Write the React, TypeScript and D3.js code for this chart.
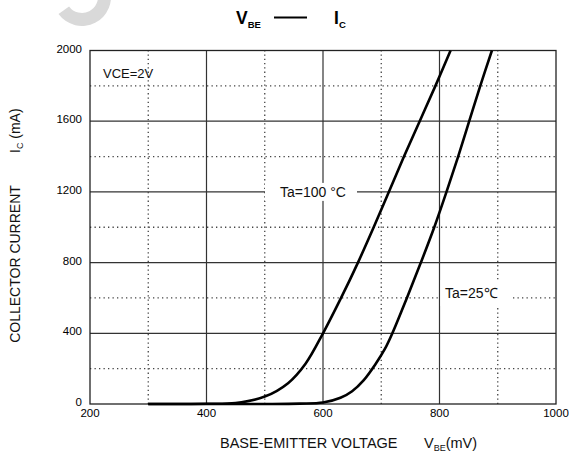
import React, { useRef, useEffect } from 'react';
import * as d3 from 'd3';

// Ta = 100 °C curve
const vbe100 = [300, 400, 450, 500, 540, 570, 600, 631, 660, 687, 713, 739, 766, 793, 819];
const ic100 = [0, 1, 6, 42, 118, 228, 400, 600, 800, 1000, 1200, 1400, 1600, 1800, 2000];

// Ta = 25 °C curve
const vbe25 = [300, 500, 560, 600, 630, 650, 670, 690, 706, 719, 744, 768, 791, 812, 832, 851, 870, 890];
const ic25 = [0, 0, 2, 8, 35, 72, 135, 225, 310, 400, 600, 800, 1000, 1200, 1400, 1600, 1800, 2000];

const xTicks = [200, 400, 600, 800, 1000];
const yTicks = [0, 400, 800, 1200, 1600, 2000];
const xSolid = [400, 600, 800];
const xDotted = [300, 500, 700, 900];
const ySolid = [400, 800, 1200, 1600];
const yDotted = [200, 600, 1000, 1400, 1800];

const W = 569;
const H = 452;
const margin = { top: 50.5, right: 13, bottom: 48, left: 90 };

const App: React.FC = () => {
    const svgRef = useRef<SVGSVGElement | null>(null);

    useEffect(() => {
        if (!svgRef.current) return;
        const svg = d3.select(svgRef.current);
        svg.selectAll('*').remove();

        const x = d3.scaleLinear().domain([200, 1000]).range([margin.left, W - margin.right]);
        const y = d3.scaleLinear().domain([0, 2000]).range([H - margin.bottom, margin.top]);
        const font = 'Arial, "Liberation Sans", sans-serif';

        // faint watermark arc
        const wm = d3.arc()({ innerRadius: 16, outerRadius: 29, startAngle: Math.PI * 0.4, endAngle: Math.PI * 1.3 } as any);
        svg.append('path').attr('d', wm).attr('transform', 'translate(82,-3)').attr('fill', '#d9d9d9');

        // grid
        const grid = svg.append('g');
        grid.selectAll('.xs').data(xSolid).enter().append('line')
            .attr('x1', (d) => x(d)).attr('x2', (d) => x(d))
            .attr('y1', y(0)).attr('y2', y(2000))
            .attr('stroke', '#333').attr('stroke-width', 1.2);
        grid.selectAll('.ys').data(ySolid).enter().append('line')
            .attr('x1', x(200)).attr('x2', x(1000))
            .attr('y1', (d) => y(d)).attr('y2', (d) => y(d))
            .attr('stroke', '#333').attr('stroke-width', 1.2);
        grid.selectAll('.xd').data(xDotted).enter().append('line')
            .attr('x1', (d) => x(d)).attr('x2', (d) => x(d))
            .attr('y1', y(0)).attr('y2', y(2000))
            .attr('stroke', '#444').attr('stroke-width', 1.3)
            .attr('stroke-dasharray', '1.3,3');
        grid.selectAll('.yd').data(yDotted).enter().append('line')
            .attr('x1', x(200)).attr('x2', x(1000))
            .attr('y1', (d) => y(d)).attr('y2', (d) => y(d))
            .attr('stroke', '#444').attr('stroke-width', 1.3)
            .attr('stroke-dasharray', '1.3,3.2');

        // label backgrounds (break the grid)
        svg.append('rect').attr('x', 265).attr('y', y(1200) - 9).attr('width', 92).attr('height', 18).attr('fill', '#fff');
        svg.append('rect').attr('x', x(800) + 1).attr('y', 280).attr('width', 72).attr('height', 26).attr('fill', '#fff');

        // frame
        svg.append('rect')
            .attr('x', x(200)).attr('y', y(2000))
            .attr('width', x(1000) - x(200)).attr('height', y(0) - y(2000))
            .attr('fill', 'none').attr('stroke', '#222').attr('stroke-width', 1.3);

        // curves
        const line = d3.line<[number, number]>()
            .x((d) => x(d[0])).y((d) => y(d[1]))
            .curve(d3.curveCatmullRom.alpha(0.5));
        const c100 = vbe100.map((v, i) => [v, ic100[i]] as [number, number]);
        const c25 = vbe25.map((v, i) => [v, ic25[i]] as [number, number]);
        [c100, c25].forEach((c) => {
            svg.append('path').attr('d', line(c)).attr('fill', 'none')
                .attr('stroke', '#000').attr('stroke-width', 2.6)
                .attr('stroke-linejoin', 'round');
        });

        // tick labels
        svg.selectAll('.xt').data(xTicks).enter().append('text')
            .attr('x', (d) => x(d)).attr('y', y(0) + 12.5)
            .attr('text-anchor', 'middle').attr('font-family', font).attr('font-size', 11.5)
            .text((d) => d);
        svg.selectAll('.yt').data(yTicks).enter().append('text')
            .attr('x', 82).attr('y', (d) => y(d) + 2)
            .attr('text-anchor', 'end').attr('font-family', font).attr('font-size', 11.5)
            .text((d) => d);

        // annotations
        svg.append('text').attr('x', 103).attr('y', 78).attr('font-family', font).attr('font-size', 13)
            .attr('fill', '#111').text('VCE=2V');
        svg.append('text').attr('x', 280).attr('y', y(1200) + 5).attr('font-family', font).attr('font-size', 14)
            .attr('fill', '#111').text('Ta=100 °C');
        svg.append('text').attr('x', 445).attr('y', 298).attr('font-family', font).attr('font-size', 14)
            .attr('fill', '#111').text('Ta=25℃');

        // title
        const title = svg.append('text').attr('font-family', font).attr('font-weight', 'bold').attr('fill', '#000');
        title.append('tspan').attr('x', 236).attr('y', 24).attr('font-size', 17.5).text('V');
        title.append('tspan').attr('dy', 4).attr('font-size', 9.5).text('BE');
        svg.append('line').attr('x1', 274).attr('x2', 307).attr('y1', 17.5).attr('y2', 17.5)
            .attr('stroke', '#000').attr('stroke-width', 2.2);
        const t2 = svg.append('text').attr('font-family', font).attr('font-weight', 'bold').attr('fill', '#000');
        t2.append('tspan').attr('x', 334).attr('y', 24).attr('font-size', 17.5).text('I');
        t2.append('tspan').attr('dy', 4).attr('font-size', 9.5).text('C');

        // x axis title
        svg.append('text').attr('x', 220).attr('y', 448).attr('font-family', font).attr('font-size', 14.5)
            .attr('fill', '#111').text('BASE-EMITTER VOLTAGE');
        const xl = svg.append('text').attr('font-family', font).attr('fill', '#111');
        xl.append('tspan').attr('x', 424).attr('y', 448).attr('font-size', 14.5).text('V');
        xl.append('tspan').attr('dy', 3).attr('font-size', 9).text('BE');
        xl.append('tspan').attr('dy', -3).attr('font-size', 14.5).text('(mV)');

        // y axis title
        svg.append('text').attr('transform', 'translate(20,264) rotate(-90)')
            .attr('text-anchor', 'middle').attr('font-family', font).attr('font-size', 14)
            .attr('fill', '#111').text('COLLECTOR CURRENT');
        const yl = svg.append('text').attr('transform', 'translate(20,153) rotate(-90)')
            .attr('font-family', font).attr('fill', '#111');
        yl.append('tspan').attr('x', 0).attr('y', 0).attr('font-size', 14).text('I');
        yl.append('tspan').attr('dy', 3).attr('font-size', 9).text('C');
        yl.append('tspan').attr('dy', -3).attr('font-size', 14).text(' (mA)');
    }, []);

    return (
        <svg
            ref={svgRef}
            width={W}
            height={H}
            style={{ position: 'absolute', left: 0, top: 0, background: '#fff' }}
        ></svg>
    );
};

export default App;
